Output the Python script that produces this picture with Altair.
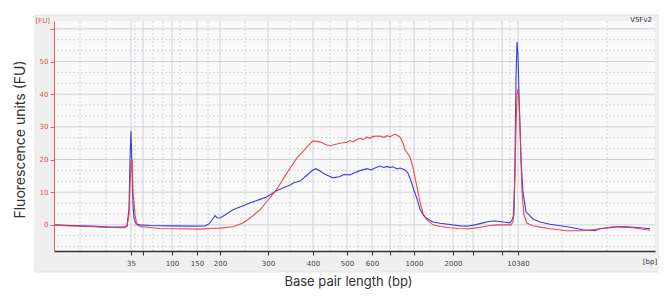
import altair as alt
import pandas as pd

# x positions are in migration-position units (plot pixels from left axis)
blue_x = [0, 16, 36, 56, 70, 73, 75, 76, 77, 78, 79, 80, 82, 86, 96, 116, 136, 151, 155, 158, 161, 163, 166, 171,
          179, 186, 196, 206, 213, 223, 236, 240, 246, 254, 259, 262, 266, 271, 279, 286, 290, 296, 300, 306, 313,
          317, 321, 326, 330, 332, 336, 339, 343, 346, 351, 354, 357, 360, 363, 366, 371, 379, 386, 396, 406, 413,
          421, 429, 436, 441, 451, 456, 458, 460, 461, 462, 463, 464, 465, 466, 467, 469, 472, 479, 486, 496, 513,
          529, 541, 546, 556, 564, 573, 586, 596]
blue_y = [0, -0.2, -0.4, -0.7, -0.7, -0.3, 5, 20, 28.7, 18, 6, 2, 0.3, 0, -0.2, -0.3, -0.4, -0.3, 0.3, 1.5,
          2.8, 2.2, 2.1, 3.0, 4.6, 5.5, 6.7, 7.8, 8.6, 10.5, 12.2, 12.9, 13.4, 15.5, 16.8, 17.2, 16.5, 15.5, 14.4,
          14.8, 15.4, 15.3, 15.9, 16.6, 17.2, 16.8, 17.4, 18.0, 17.5, 17.9, 17.6, 17.8, 17.1, 17.4, 16.8, 15.8,
          13.5, 10.5, 8.0, 4.8, 2.3, 0.9, 0.5, 0.1, -0.3, -0.4, 0.0, 0.6, 1.1, 1.2, 0.8, 0.6, 1.5, 3, 20, 45, 56,
          52, 40, 30, 20, 10, 4, 1.8, 0.9, 0.2, -0.6, -1.5, -1.8, -1.2, -0.9, -0.5, -0.6, -0.9, -1.2, -1.6]

red_x = [0, 16, 36, 56, 70, 73, 75, 76, 77, 78, 79, 80, 81, 83, 86, 96, 106, 126, 146, 156, 166, 179, 189, 196,
         206, 216, 223, 233, 243, 253, 259, 266, 272, 276, 281, 286, 293, 296, 299, 302, 306, 309, 313, 316, 319,
         326, 330, 333, 336, 341, 346, 349, 351, 356, 359, 361, 364, 366, 369, 373, 379, 386, 396, 404, 413, 421,
         429, 436, 443, 451, 457, 459, 461, 462, 463, 464, 465, 466, 467, 468, 470, 473, 479, 486, 496, 513, 529,
         538, 546, 559, 568, 579, 593, 596]
red_y = [0, -0.3, -0.5, -0.8, -0.9, -0.5, 3, 12, 19, 19.9, 10, 7, 3, 0, -0.5, -0.8, -1.1, -1.2, -1.3, -1.1,
         -1.0, -0.6, 0.6, 2.1, 4.6, 8.3, 11, 15.9, 20.5, 23.9, 25.7, 25.4, 24.5, 24.2, 24.6, 25.0, 25.3, 25.8,
         25.4, 26.0, 26.5, 26.1, 26.9, 26.5, 27.1, 27.2, 26.8, 27.3, 27.0, 27.8, 26.9, 25.0, 23.0, 20.8, 17.5,
         14.5, 10.0, 7.0, 3.5, 1.5, 0.0, -0.5, -0.9, -1.1, -1.2, -1.0, -0.6, -0.2, 0.0, 0.0, 0.0, 1.0, 15, 30, 40,
         41.6, 38, 30, 20, 10, 3, 0.5, -0.3, -0.7, -1.2, -1.8, -1.8, -1.5, -1.2, -0.6, -0.7, -0.9, -1.5, -1.6]

tick_pos = [77, 89, 118, 143, 166, 214, 259, 293, 318, 336, 360, 399, 419, 448, 464]
tick_lab = ["35", "", "100", "150", "200", "300", "400", "500", "600", "", "1000", "2000", "", "", "10380"]
minor_x = [26, 52, 81, 99, 109, 126, 154, 191, 236, 276, 304, 346, 376, 413, 456, 508, 553]
y_ticks = [0, 10, 20, 30, 40, 50, 60]
minor_y = [-6.67, -3.33, 3.33, 6.67, 13.33, 16.67, 23.33, 26.67, 33.33, 36.67, 43.33, 46.67, 53.33, 56.67]

rows = [{"pos": x, "fu": y, "sample": "blue"} for x, y in zip(blue_x, blue_y)]
rows += [{"pos": x, "fu": y, "sample": "red"} for x, y in zip(red_x, red_y)]
df = pd.DataFrame(rows)

W, H = 601, 230
xs = alt.Scale(domain=[0, W], nice=False, zero=False)
ys = alt.Scale(domain=[-8, 62.4], nice=False, zero=False)

expr = "''"
for p, l in zip(tick_pos, tick_lab):
    expr = f"datum.value == {p} ? '{l}' : ({expr})"

xaxis = alt.Axis(
    values=tick_pos, labelExpr=expr, grid=False, title="Base pair length (bp)", zindex=1,
    domainColor="#333333", domainWidth=1.5, tickColor="#333333", tickSize=4,
    labelFont="DejaVu Sans", labelFontSize=7, labelColor="#444444", labelPadding=4,
    titleFont="Inter", titleFontSize=13, titleFontWeight="normal", titleColor="#333333",
    titleX=294, titleY=37, titleBaseline="bottom", titleAnchor="middle", labelOverlap=False)
yaxis = alt.Axis(
    values=y_ticks, labelExpr="datum.value == 60 ? '' : datum.label", grid=False, zindex=1,
    title="Fluorescence units (FU)", domainColor="#e06060", tickColor="#e06060", tickSize=4,
    labelFont="DejaVu Sans", labelFontSize=7, labelColor="#e05050", labelPadding=2,
    titleFont="Inter", titleFontSize=14, titleFontWeight="normal", titleColor="#333333",
    titleX=-34, titleY=118, titleAnchor="middle", titleBaseline="middle")

one = alt.Data(values=[{}])

frame = alt.Chart(one).mark_rect(fill="#efefef", stroke="#e4e4e4").encode(
    x=alt.value(-19), x2=alt.value(608), y=alt.value(-6), y2=alt.value(251))
inner = alt.Chart(one).mark_rect(fill="#f9f9f9").encode(
    x=alt.value(0), x2=alt.value(W), y=alt.value(0), y2=alt.value(H))

vgrid_minor = alt.Chart(pd.DataFrame({"pos": minor_x})).mark_rule(
    color="#d4d4d4", strokeDash=[2, 2], strokeWidth=1).encode(x=alt.X("pos:Q", scale=xs, axis=xaxis))
hgrid_minor = alt.Chart(pd.DataFrame({"fu": minor_y})).mark_rule(
    color="#d4d4d4", strokeDash=[2, 2], strokeWidth=1).encode(y=alt.Y("fu:Q", scale=ys, axis=yaxis))
vgrid = alt.Chart(pd.DataFrame({"pos": tick_pos})).mark_rule(
    color="#cdd2da", strokeWidth=1).encode(x=alt.X("pos:Q", scale=xs, axis=xaxis))
hgrid = alt.Chart(pd.DataFrame({"fu": y_ticks})).mark_rule(
    color="#cdd2da", strokeWidth=1).encode(y=alt.Y("fu:Q", scale=ys, axis=yaxis))

lines = alt.Chart(df).mark_line(strokeWidth=1.1, opacity=0.9, interpolate="linear").encode(
    x=alt.X("pos:Q", scale=xs, axis=xaxis),
    y=alt.Y("fu:Q", scale=ys, axis=yaxis),
    color=alt.Color("sample:N", scale=alt.Scale(domain=["blue", "red"], range=["#2a2ad8", "#e83a3a"]),
                    legend=None),
    order=alt.Order("pos:Q"),
    detail="sample:N",
)

fu_lbl = alt.Chart(one).mark_text(text="[FU]", font="DejaVu Sans", fontSize=7, color="#e05050",
                                  align="right", baseline="middle").encode(x=alt.value(-4), y=alt.value(0))
bp_lbl = alt.Chart(one).mark_text(text="[bp]", font="DejaVu Sans", fontSize=7, color="#333333",
                                  align="center", baseline="middle").encode(x=alt.value(596), y=alt.value(241))
v_lbl = alt.Chart(one).mark_text(text="V5Fv2", font="DejaVu Sans", fontSize=7, color="#333333",
                                 align="right", baseline="middle").encode(x=alt.value(598), y=alt.value(-1))

chart = alt.layer(frame, inner, vgrid_minor, hgrid_minor, vgrid, hgrid, lines, fu_lbl, bp_lbl, v_lbl).properties(
    width=W, height=H,
    autosize=alt.AutoSizeParams(type="none"),
    padding={"left": 46, "top": 13, "right": 4, "bottom": 38},
).configure_view(stroke=None).configure(background="white")

chart.save("out.html", embed_options={"renderer": "svg", "actions": False})
